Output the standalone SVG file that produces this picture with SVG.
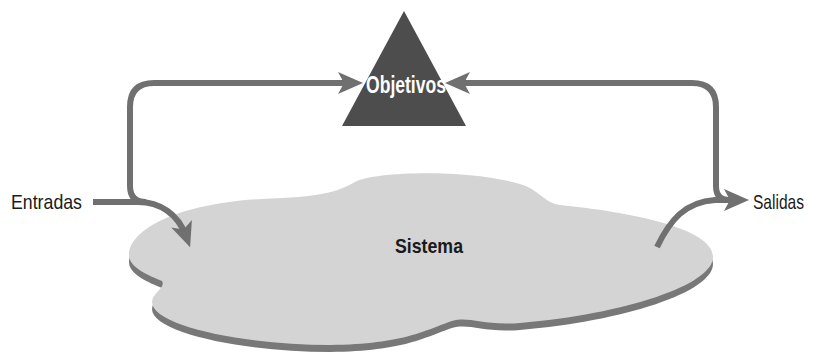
<svg xmlns="http://www.w3.org/2000/svg" width="814" height="353" viewBox="0 0 814 353">
<style>
.flow{fill:none;stroke:#707070;stroke-width:6;marker-end:url(#ah)}
.lbl{font-family:"Liberation Sans Narrow","Liberation Sans",Arial,sans-serif;font-size:21px;fill:#1a1a1a}
.bold{font-weight:bold;font-size:21px}
</style>
<defs>
<marker id="ah" markerUnits="userSpaceOnUse" viewBox="-15 -15 30 30" markerWidth="30" markerHeight="30" refX="0" refY="0" orient="auto" overflow="visible">
<path d="M12,0 L-13,-11 L-7,0 L-13,11 Z" fill="#707070"/>
</marker>
<path id="cloudShape" d="M129,255 C129,232 172,204 262,199 C320,197 338,192 355,182 C375,171 470,169 520,184 C540,190 544,203 560,205 C630,212 713,228 713,257 C713,285 625,314 520,323 C482,326 470,316 452,321 C425,330 405,344 330,345 C245,345 152,326 152,302 C152,293 166,288 162,281 C150,276 129,268 129,255 Z"/>
</defs>
<g id="sistema">
<use href="#cloudShape" transform="translate(0,7)" fill="#787878"/>
<use href="#cloudShape" fill="#d4d4d4"/>
<text class="lbl bold" x="395" y="253" textLength="68" lengthAdjust="spacingAndGlyphs">Sistema</text>
</g>
<g id="objetivos">
<polygon points="404,11 466,126 342,126" fill="#4d4d4d"/>
<text class="lbl bold" x="366" y="93" style="fill:#fff;font-size:23px" textLength="80" lengthAdjust="spacingAndGlyphs">Objetivos</text>
</g>
<g id="entradas">
<text class="lbl" x="11" y="209" textLength="71" lengthAdjust="spacingAndGlyphs">Entradas</text>
</g>
<g id="salidas">
<text class="lbl" x="753" y="209" textLength="51" lengthAdjust="spacingAndGlyphs">Salidas</text>
</g>
<g id="connectors">
<path class="flow" d="M93,202 L138,202 C160,202 178,214 186,236"/>
<path class="flow" d="M146,202 Q130,202 130,186 L130,107 Q130,83 154,83 L351,83"/>
<path class="flow" d="M729,200 Q716,200 716,186 L716,107 Q716,83 692,83 L457,83"/>
<path class="flow" d="M657,247 C670,220 685,202 715,200 L737,200"/>
</g>
</svg>
